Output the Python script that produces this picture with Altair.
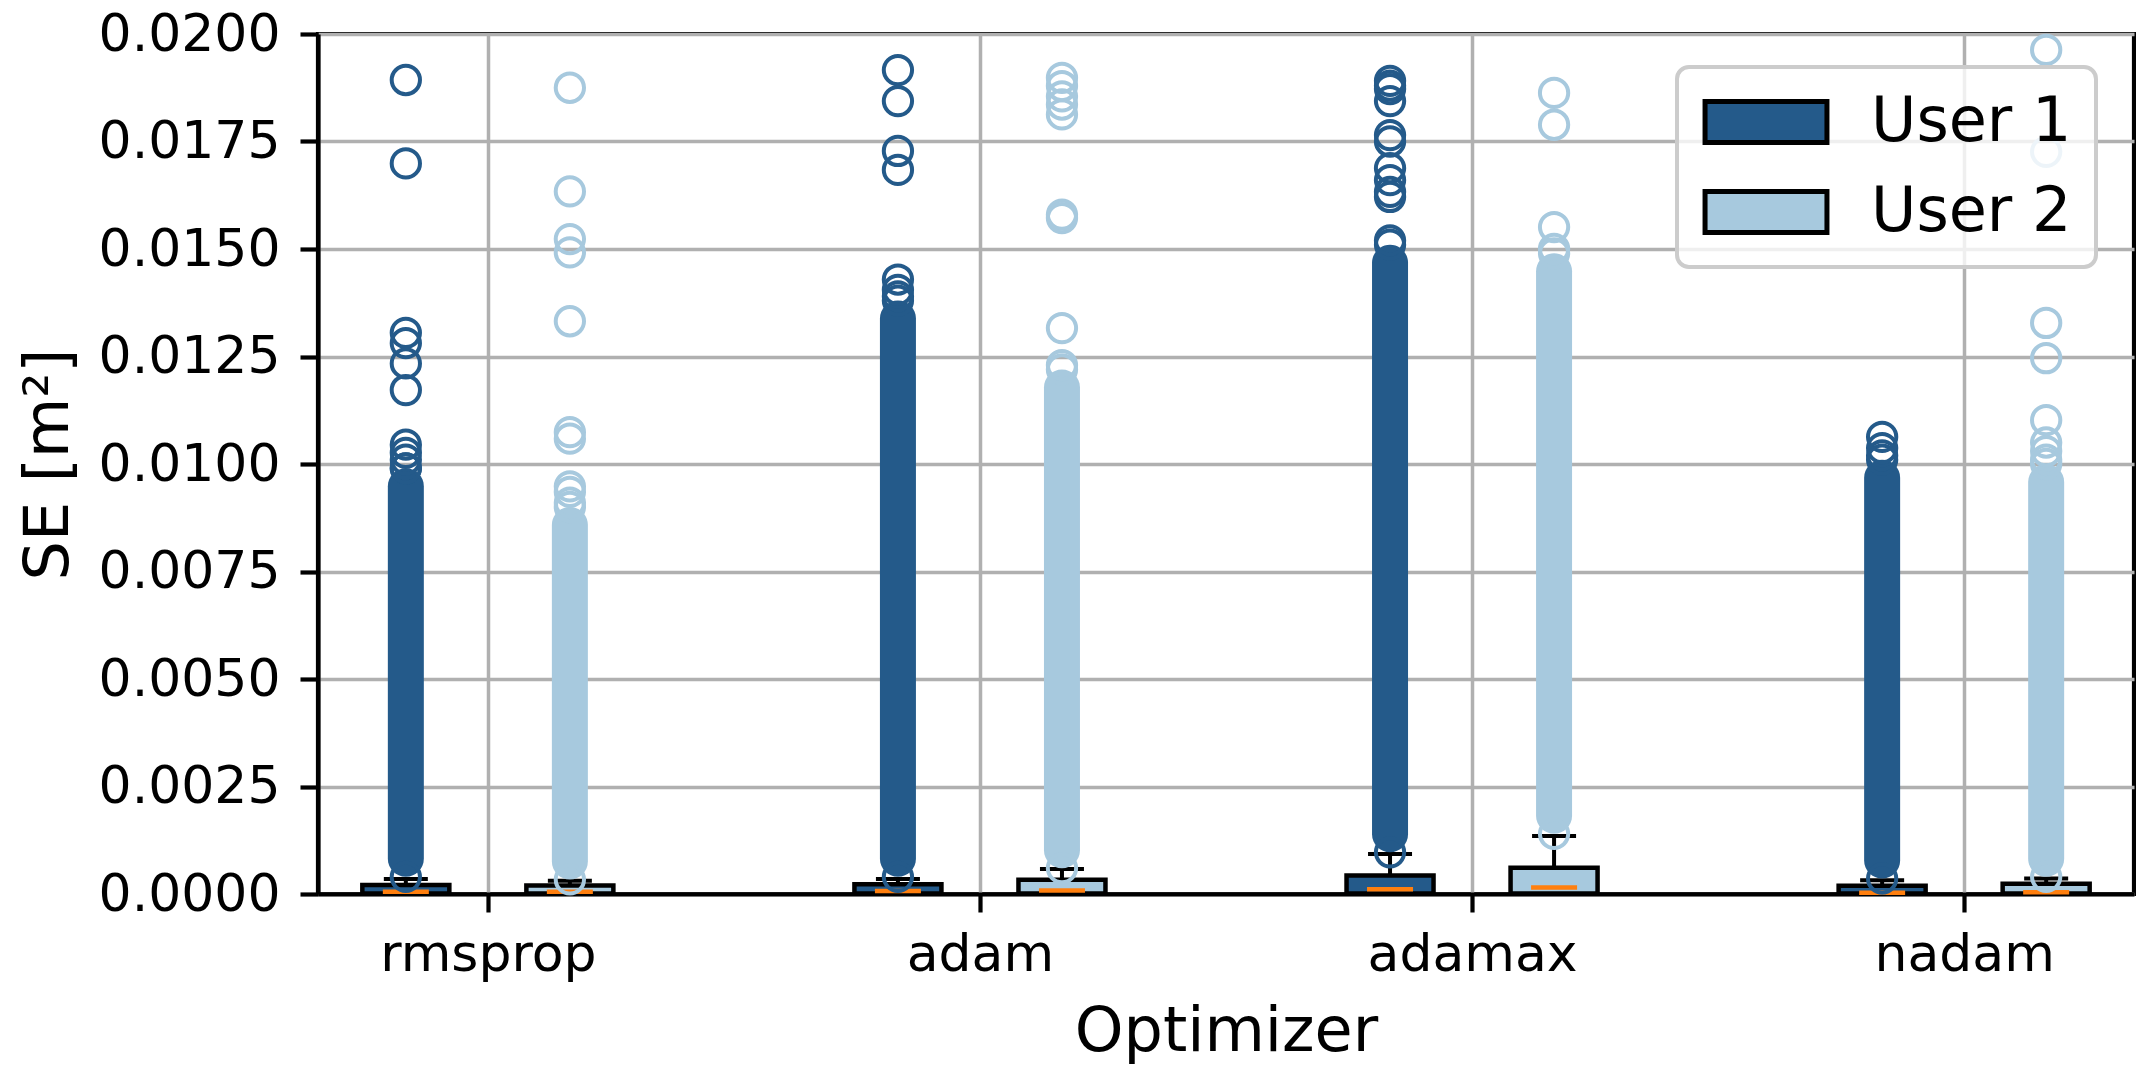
import json
import altair as alt
import pandas as pd

# ---------------- data ----------------
optimizers = ["rmsprop", "adam", "adamax", "nadam"]
users = ["User 1", "User 2"]
user_colors = ["#245a8a", "#a7c9de"]
edge_colors = ["black", "black"]

y_ticks = [0.0, 0.0025, 0.005, 0.0075, 0.01, 0.0125, 0.015, 0.0175, 0.02]

# box statistics (per optimizer, in order)
wlo_user1 = [0.0, 0.0, 0.0, 0.0]
q1_user1 = [0.00001, 0.00001, 0.00001, 0.00001]
med_user1 = [0.00005, 0.00007, 0.00011, 0.00003]
q3_user1 = [0.00021, 0.000225, 0.00043, 0.00019]
whi_user1 = [0.00035, 0.00035, 0.00093, 0.00032]

wlo_user2 = [0.0, 0.0, 0.0, 0.0]
q1_user2 = [0.00001, 0.00001, 0.00001, 0.00001]
med_user2 = [0.00005, 0.00008, 0.00015, 0.00004]
q3_user2 = [0.00020, 0.00033, 0.00061, 0.00024]
whi_user2 = [0.00031, 0.00058, 0.00135, 0.00036]

# dense runs of outliers (centres of lowest / highest circle in the solid column)
dense_lo_user1 = [0.00040, 0.00040, 0.00097, 0.00036]
dense_hi_user1 = [0.00990, 0.01380, 0.01510, 0.01010]
dense_lo_user2 = [0.00034, 0.00060, 0.00140, 0.00040]
dense_hi_user2 = [0.00900, 0.01220, 0.01490, 0.01000]

# individual outliers above the dense runs
out_rmsprop_user1 = [0.01893, 0.01699, 0.01305, 0.01281, 0.01234, 0.01172, 0.01045, 0.01026, 0.0101, 0.0099]
out_rmsprop_user2 = [0.01875, 0.01634, 0.01523, 0.01492, 0.01332, 0.01074, 0.01059, 0.00948, 0.00935, 0.0091]
out_adam_user1 = [0.01916, 0.01844, 0.01728, 0.01684, 0.01429, 0.01405, 0.0139]
out_adam_user2 = [0.01898, 0.01879, 0.01855, 0.01836, 0.01813, 0.01580, 0.01572, 0.01316, 0.0123]
out_adamax_user1 = [0.01891, 0.01880, 0.01872, 0.01844, 0.01765, 0.01750, 0.01688, 0.01660, 0.01633, 0.01621, 0.0152]
out_adamax_user2 = [0.01863, 0.01789, 0.01551, 0.0150]
out_nadam_user1 = [0.01063, 0.01037, 0.0102]
out_nadam_user2 = [0.01963, 0.01726, 0.01328, 0.01246, 0.01102, 0.01050, 0.01030, 0.0101]

# ---------------- tables ----------------
stats = {
    "User 1": (wlo_user1, q1_user1, med_user1, q3_user1, whi_user1, dense_lo_user1, dense_hi_user1),
    "User 2": (wlo_user2, q1_user2, med_user2, q3_user2, whi_user2, dense_lo_user2, dense_hi_user2),
}
outliers = {
    ("rmsprop", "User 1"): out_rmsprop_user1, ("rmsprop", "User 2"): out_rmsprop_user2,
    ("adam", "User 1"): out_adam_user1, ("adam", "User 2"): out_adam_user2,
    ("adamax", "User 1"): out_adamax_user1, ("adamax", "User 2"): out_adamax_user2,
    ("nadam", "User 1"): out_nadam_user1, ("nadam", "User 2"): out_nadam_user2,
}

box_rows, flier_rows = [], []
for i, opt in enumerate(optimizers):
    for j, user in enumerate(users):
        pos = i + 1 + (j - 0.5) / 3.0
        wlo, q1, med, q3, whi, dlo, dhi = (s[i] for s in stats[user])
        box_rows.append(dict(optimizer=opt, user=user, pos=pos, wlo=wlo, q1=q1, med=med,
                             q3=q3, whi=whi, dlo=dlo, dhi=dhi))
        for v in outliers[(opt, user)] + [dlo, dhi]:
            flier_rows.append(dict(optimizer=opt, user=user, pos=pos, v=v))
box_df = pd.DataFrame(box_rows)
flier_df = pd.DataFrame(flier_rows)

# ---------------- chart ----------------
FONT = "DejaVu Sans"
x_scale = alt.Scale(domain=[0.665, 4.335], nice=False, zero=False)
y_scale = alt.Scale(domain=[0, 0.02], nice=False, zero=True)
fill_scale = alt.Scale(domain=users, range=user_colors)
edge_scale = alt.Scale(domain=users, range=edge_colors)
col_scale = alt.Scale(domain=users, range=user_colors)

x_enc = alt.X(
    "pos:Q", scale=x_scale,
    axis=alt.Axis(values=[1, 2, 3, 4], labelExpr=f"{json.dumps(optimizers)}[datum.value - 1]",
                  title="Optimizer", labelPadding=17, titlePadding=21),
)
y_enc = alt.Y(
    "q1:Q", scale=y_scale,
    axis=alt.Axis(values=y_ticks, format=".4f", title="SE [m²]", labelPadding=20, titlePadding=38),
)

legend = alt.Legend(
    title=None, orient="none", legendX=1359, legendY=33,
    symbolType="M-2.65,-0.89H2.65V0.89H-2.65Z", symbolSize=2116,
    symbolStrokeWidth=5, symbolOffset=34, symbolOpacity=1,
    labelOffset=74, padding=24, labelLimit=0,
    fillColor="rgba(255,255,255,0.8)", strokeColor="#cccccc", cornerRadius=12,
    labelFont=FONT, labelFontSize=62, labelColor="black",
)

base = alt.Chart(box_df)

boxes = base.mark_bar(size=87, strokeWidth=4.5, opacity=1).encode(
    x=x_enc, y=y_enc, y2="q3:Q",
    fill=alt.Fill("user:N", scale=fill_scale, legend=legend),
    stroke=alt.Stroke("user:N", scale=edge_scale, legend=legend),
)
whisk_hi = base.mark_rule(color="black", strokeWidth=4).encode(x="pos:Q", y="q3:Q", y2="whi:Q")
whisk_lo = base.mark_rule(color="black", strokeWidth=4).encode(x="pos:Q", y="wlo:Q", y2="q1:Q")
cap_hi = base.mark_tick(orient="horizontal", size=44, thickness=4, color="black", opacity=1).encode(
    x="pos:Q", y="whi:Q")
cap_lo = base.mark_tick(orient="horizontal", size=44, thickness=4, color="black", opacity=1).encode(
    x="pos:Q", y="wlo:Q")
medians = base.mark_tick(orient="horizontal", size=46, thickness=4.5, color="#ff7f0e", opacity=1).encode(
    x="pos:Q", y="med:Q")
dense = base.mark_bar(size=36, cornerRadius=18, opacity=1).encode(
    x="pos:Q", y="dlo:Q", y2="dhi:Q",
    color=alt.Color("user:N", scale=col_scale, legend=None),
)
fliers = alt.Chart(flier_df).mark_point(shape="circle", filled=False, size=800, strokeWidth=4, opacity=1).encode(
    x="pos:Q", y="v:Q",
    color=alt.Color("user:N", scale=col_scale, legend=None),
)

chart = alt.layer(boxes, whisk_hi, whisk_lo, cap_hi, cap_lo, medians, dense, fliers).properties(
    width=1816, height=860,
    padding={"left": 310, "top": 26, "right": 2, "bottom": 170},
    autosize=alt.AutoSizeParams(type="none"),
).configure_view(
    stroke="black", strokeWidth=4.2,
).configure_axis(
    labelFont=FONT, labelFontSize=52, labelColor="black", labelLimit=0,
    titleFont=FONT, titleFontSize=62, titleFontWeight="normal", titleColor="black",
    tickColor="black", tickSize=18, tickWidth=4.2,
    domainColor="black", domainWidth=4.2,
    grid=True, gridColor="#b0b0b0", gridWidth=3.5, gridOpacity=1,
).configure_legend(
    strokeWidth=4, rowPadding=28,
)

chart.save("out.html", embed_options={"renderer": "svg", "actions": False})
